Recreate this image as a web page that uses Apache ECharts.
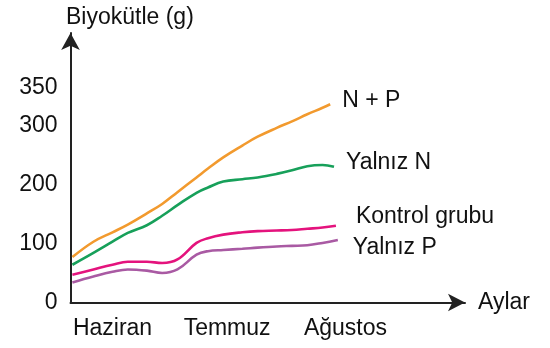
<!DOCTYPE html>
<html>
<head>
<meta charset="utf-8">
<script src="https://cdn.jsdelivr.net/npm/echarts@6/dist/echarts.min.js"></script>
<style>
  html, body { margin: 0; padding: 0; background: #fff; }
  #chart { width: 550px; height: 348px; }
</style>
</head>
<body>
<div id="chart"></div>
<script>
// Sampling days (counted from 1 June); the last sample of each series is in lastDay
const days = [4.5, 10, 15, 19, 24, 28, 32, 37, 40, 44, 49, 53, 58, 62, 66, 70];

// Month labels and where they sit on the day axis
const months = ['Haziran', 'Temmuz', 'Ağustos'];
const monthDays = [15, 45, 76];

// Y tick labels
const yTicks = [0, 100, 200, 300, 350];

// Series
const seriesNames = ['N + P', 'Yalnız N', 'Kontrol grubu', 'Yalnız P'];
const seriesColors = ['#F29A2E', '#17A05A', '#E4137D', '#A95AA3'];
const lastDay = [72, 73, 73.5, 74];
const npVals   = [77, 103, 119, 132, 151, 167, 187, 212, 227, 246, 266, 281, 296, 307, 319, 330, 336];
const nVals    = [64, 84, 103, 118, 131, 147, 165, 186, 195, 205, 209, 212, 218, 224, 231, 233, 230];
const ctrlVals = [47, 56, 64, 69, 69, 67, 73, 101, 109, 115, 119, 121, 122, 123, 125, 127, 130];
const pVals    = [34, 44, 52, 56, 54, 50, 56, 81, 87, 89, 91, 93, 95, 96, 97, 101, 106];
const allVals = [npVals, nVals, ctrlVals, pVals];

// End-label offsets next to each curve
const labelOffsets = [[12, -4], [12, -4], [20, -9], [15, 8]];

const FONT = '"Liberation Sans", Arial, sans-serif';
const FS = 23;

const chart = echarts.init(document.getElementById('chart'), null, { renderer: 'canvas' });

const series = allVals.map((vals, k) => ({
  name: seriesNames[k],
  type: 'line',
  smooth: 0.4,
  showSymbol: false,
  silent: true,
  data: days.concat(lastDay[k]).map((d, i) => [d, vals[i]]),
  lineStyle: { color: seriesColors[k], width: 2.6 },
  itemStyle: { color: seriesColors[k] },
  endLabel: {
    show: true,
    formatter: seriesNames[k],
    color: '#111',
    fontFamily: FONT,
    fontSize: FS,
    distance: 0,
    offset: labelOffsets[k]
  }
}));

chart.setOption({
  animation: false,
  backgroundColor: '#fff',
  title: {
    text: 'Biyokütle (g)',
    left: 61,
    top: 1,
    textStyle: { color: '#111', fontFamily: FONT, fontSize: FS, fontWeight: 'normal' }
  },
  grid: { left: 70.5, right: 85, top: 33, bottom: 45.5, containLabel: false },
  xAxis: {
    type: 'value',
    min: 4,
    max: 107.3,
    splitLine: { show: false },
    axisTick: { show: false },
    name: 'Aylar',
    nameLocation: 'end',
    nameGap: 13,
    nameTextStyle: { color: '#111', fontFamily: FONT, fontSize: FS },
    axisLine: {
      show: true,
      symbol: ['none', 'arrow'],
      symbolSize: [13, 17],
      lineStyle: { color: '#222', width: 2 }
    },
    axisLabel: {
      customValues: monthDays,
      formatter: v => months[monthDays.indexOf(v)] || '',
      color: '#111',
      fontFamily: FONT,
      fontSize: FS,
      margin: 15
    }
  },
  yAxis: {
    type: 'value',
    min: 0,
    max: 456.8,
    splitLine: { show: false },
    axisTick: { show: false },
    axisLine: {
      show: true,
      symbol: ['none', 'arrow'],
      symbolSize: [14, 17],
      lineStyle: { color: '#222', width: 2 }
    },
    axisLabel: {
      customValues: yTicks,
      formatter: v => (v === 350 ? '{hi|350}' : String(v)),
      color: '#111',
      fontFamily: FONT,
      fontSize: FS,
      margin: 13,
      rich: {
        hi: { color: '#111', fontFamily: FONT, fontSize: FS, padding: [0, 0, 17, 0] }
      }
    }
  },
  series: series
});
</script>
</body>
</html>
